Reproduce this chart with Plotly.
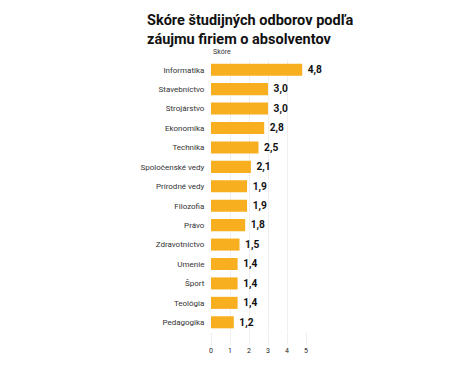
import plotly.graph_objects as go

categories = ["Informatika", "Stavebníctvo", "Strojárstvo", "Ekonomika", "Technika",
              "Spoločenské vedy", "Prírodné vedy", "Filozofia", "Právo", "Zdravotníctvo",
              "Umenie", "Šport", "Teológia", "Pedagogika"]
values = [4.8, 3.0, 3.0, 2.8, 2.5, 2.1, 1.9, 1.9, 1.8, 1.5, 1.4, 1.4, 1.4, 1.2]
value_labels = [" " + f"{v:.1f}".replace(".", ",") for v in values]
tick_vals = [0, 1, 2, 3, 4, 5]

W, H = 466, 365
L, R, T, B = 203, 168, 52, 41
PH = H - T - B
PW = W - L - R

fig = go.Figure(go.Bar(
    x=values, y=categories, orientation="h",
    marker=dict(color="#F7AE1F", line=dict(width=0)),
    width=0.62,
    text=value_labels, textposition="outside",
    textfont=dict(family="Roboto", size=11, color="#111111", weight="bold"),
    cliponaxis=False,
))

fig.update_layout(
    width=W, height=H,
    margin=dict(l=L, r=R, t=T, b=B),
    paper_bgcolor="white", plot_bgcolor="white",
    showlegend=False,
    font=dict(family="Roboto", color="#333333"),
    xaxis=dict(range=[0, 5], tickvals=tick_vals, showgrid=True, gridcolor="#efefef",
               gridwidth=1, zeroline=False, showline=False,
               tickfont=dict(size=7, color="#222222"), ticks="outside", ticklen=12,
               tickcolor="#efefef", fixedrange=True),
    yaxis=dict(autorange="reversed", showgrid=False, zeroline=False, showline=False,
               tickfont=dict(size=8, color="#333333"), ticks="outside", ticklen=4,
               tickcolor="rgba(0,0,0,0)"),
    annotations=[
        dict(text="<b>Skóre študijných odborov podľa<br>záujmu firiem o absolventov</b>",
             xref="paper", yref="paper", x=(137 - L) / PW, y=1 + (T - 2) / PH,
             xanchor="left", yanchor="top",
             align="left", showarrow=False,
             font=dict(family="Roboto", size=14.5, color="#111111")),
        dict(text="Skóre", xref="paper", yref="paper", x=0, y=1 + 8 / PH,
             xanchor="left", yanchor="middle", showarrow=False,
             font=dict(family="Roboto", size=7, color="#333333")),
    ],
)

fig.write_html("out.html")
